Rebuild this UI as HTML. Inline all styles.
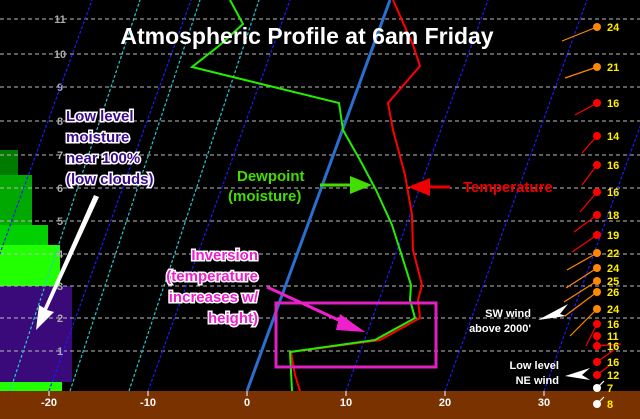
<!DOCTYPE html>
<html><head><meta charset="utf-8"><style>
html,body{margin:0;padding:0;background:#000;}
svg{display:block;font-family:"Liberation Sans","DejaVu Sans",sans-serif;font-weight:bold;}
</style></head><body>
<svg width="640" height="419" viewBox="0 0 640 419" xmlns="http://www.w3.org/2000/svg">
<rect width="640" height="419" fill="#000"/>
<rect x="0" y="150" width="18" height="25" fill="#007a00"/>
<rect x="0" y="175" width="32" height="50" fill="#00a800"/>
<rect x="0" y="225" width="48" height="22" fill="#00d000"/>
<rect x="0" y="245" width="60" height="41" fill="#22ff00"/>
<rect x="0" y="286" width="72" height="96" fill="#3a0a7a"/>
<rect x="0" y="382" width="62" height="9" fill="#22ff00"/>
<g stroke="#bbb" stroke-width="1" stroke-dasharray="4,3">
<line x1="0" y1="19" x2="640" y2="19"/><line x1="0" y1="54" x2="640" y2="54"/>
<line x1="0" y1="87" x2="640" y2="87"/><line x1="0" y1="121" x2="640" y2="121"/>
<line x1="0" y1="155" x2="640" y2="155"/><line x1="0" y1="188" x2="640" y2="188"/>
<line x1="0" y1="221" x2="640" y2="221"/><line x1="0" y1="254" x2="640" y2="254"/>
<line x1="0" y1="286" x2="640" y2="286"/><line x1="0" y1="318" x2="640" y2="318"/>
<line x1="0" y1="351" x2="640" y2="351"/>
</g>
<g fill="#aaa" font-size="11" text-anchor="middle">
<text x="60" y="23">11</text><text x="60" y="58">10</text><text x="60" y="91">9</text>
<text x="60" y="125">8</text><text x="60" y="159">7</text><text x="60" y="192">6</text>
<text x="60" y="225">5</text><text x="60" y="258">4</text><text x="60" y="290">3</text>
<text x="60" y="322">2</text><text x="60" y="355">1</text>
</g>
<g stroke="#1a1aff" stroke-width="1.2" stroke-dasharray="3,2" fill="none">
<line x1="49" y1="391" x2="191" y2="0"/><line x1="148" y1="391" x2="290" y2="0"/>
<line x1="346" y1="391" x2="488" y2="0"/><line x1="445" y1="391" x2="587" y2="0"/>
<line x1="544" y1="391" x2="686" y2="0"/><line x1="-50" y1="391" x2="92" y2="0"/>
<line x1="643" y1="391" x2="785" y2="0"/>
</g>
<g stroke="#22cccc" stroke-width="1.2" stroke-dasharray="3,2" fill="none">
<line x1="70" y1="391" x2="200" y2="0"/><line x1="129" y1="391" x2="259" y2="0"/>
<line x1="10" y1="391" x2="140" y2="0"/>
</g>
<line x1="247" y1="391" x2="390" y2="0" stroke="#2a6fcf" stroke-width="3"/>
<polyline fill="none" stroke="#ff0000" stroke-width="2" points="300,391 295,375 291,352 380,340 420,318 418,300 422,285 413,250 412,215 405,175 393,130 388,103 420,66 413,45 393,0"/>
<polyline fill="none" stroke="#22ee00" stroke-width="2" points="292,391 290,352 375,340 415,318 410,300 411,285 400,250 392,225 376,190 360,160 343,130 339,103 192,67 220,45 243,24 230,0"/>
<rect x="0" y="391" width="640" height="28" fill="#7a3300"/>
<g stroke="#fff" stroke-width="1"><line x1="49" y1="391" x2="49" y2="396"/><line x1="148" y1="391" x2="148" y2="396"/><line x1="247" y1="391" x2="247" y2="396"/><line x1="346" y1="391" x2="346" y2="396"/><line x1="445" y1="391" x2="445" y2="396"/><line x1="544" y1="391" x2="544" y2="396"/></g>
<g fill="#fff" font-size="11" text-anchor="middle">
<text x="49" y="406">-20</text><text x="148" y="406">-10</text><text x="247" y="406">0</text>
<text x="346" y="406">10</text><text x="445" y="406">20</text><text x="544" y="406">30</text>
</g>
<rect x="276" y="303" width="160" height="64" fill="none" stroke="#e020c0" stroke-width="3"/>
<g stroke-width="1.2">
<line x1="597" y1="27" x2="562" y2="41" stroke="#ff8800"/><circle cx="597" cy="27" r="4" fill="#ff8800"/>
<line x1="597" y1="67" x2="565" y2="78" stroke="#ff8800"/><circle cx="597" cy="67" r="4" fill="#ff8800"/>
<line x1="597" y1="103" x2="575" y2="115" stroke="#ff0000"/><circle cx="597" cy="103" r="4" fill="#ff0000"/>
<line x1="597" y1="136" x2="582" y2="153" stroke="#ff0000"/><circle cx="597" cy="136" r="4" fill="#ff0000"/>
<line x1="597" y1="165" x2="582" y2="185" stroke="#ff0000"/><circle cx="597" cy="165" r="4" fill="#ff0000"/>
<line x1="597" y1="192" x2="580" y2="212" stroke="#ff0000"/><circle cx="597" cy="192" r="4" fill="#ff0000"/>
<line x1="597" y1="215" x2="574" y2="232" stroke="#ff0000"/><circle cx="597" cy="215" r="4" fill="#ff0000"/>
<line x1="597" y1="235" x2="572" y2="252" stroke="#ff0000"/><circle cx="597" cy="235" r="4" fill="#ff0000"/>
<line x1="597" y1="253" x2="567" y2="270" stroke="#ff8800"/><circle cx="597" cy="253" r="4" fill="#ff8800"/>
<line x1="597" y1="268" x2="566" y2="288" stroke="#ff8800"/><circle cx="597" cy="268" r="4" fill="#ff8800"/>
<line x1="597" y1="281" x2="564" y2="302" stroke="#ff8800"/><circle cx="597" cy="281" r="4" fill="#ff8800"/>
<line x1="597" y1="292" x2="565" y2="316" stroke="#ff8800"/><circle cx="597" cy="292" r="4" fill="#ff8800"/>
<line x1="597" y1="309" x2="570" y2="336" stroke="#ff8800"/><circle cx="597" cy="309" r="4" fill="#ff8800"/>
<line x1="597" y1="324" x2="586" y2="346" stroke="#ff0000"/><circle cx="597" cy="324" r="4" fill="#ff0000"/>
<line x1="597" y1="336" x2="597" y2="347" stroke="#ff0000"/><circle cx="597" cy="336" r="4" fill="#ff0000"/>
<line x1="597" y1="346" x2="621" y2="344" stroke="#ff0000"/><circle cx="597" cy="346" r="4" fill="#ff0000"/>
<line x1="597" y1="362" x2="614" y2="350" stroke="#ff0000"/><circle cx="597" cy="362" r="4" fill="#ff0000"/>
<line x1="597" y1="375" x2="610" y2="365" stroke="#ff0000"/><circle cx="597" cy="375" r="4" fill="#ff0000"/>
<line x1="597" y1="388" x2="604" y2="381" stroke="#fff"/><circle cx="597" cy="388" r="4" fill="#fff"/>
<line x1="597" y1="404" x2="604" y2="397" stroke="#fff"/><circle cx="597" cy="404" r="4" fill="#fff"/>
</g>
<g fill="#ffee00" font-size="11">
<text x="607" y="31">24</text><text x="607" y="71">21</text><text x="607" y="107">16</text>
<text x="607" y="140">14</text><text x="607" y="169">16</text><text x="607" y="196">16</text>
<text x="607" y="219">18</text><text x="607" y="239">19</text><text x="607" y="257">22</text>
<text x="607" y="272">24</text><text x="607" y="285">25</text><text x="607" y="296">26</text>
<text x="607" y="313">24</text><text x="607" y="328">16</text><text x="607" y="340">11</text>
<text x="607" y="350">16</text><text x="607" y="366">16</text><text x="607" y="379">12</text>
<text x="607" y="392">7</text><text x="607" y="408">8</text>
</g>
<text x="307" y="44" font-size="23" fill="#fff" text-anchor="middle">Atmospheric Profile at 6am Friday</text>
<g font-size="15" fill="#3a0a8a" stroke="#fff" stroke-width="3" paint-order="stroke">
<text x="66" y="121">Low level</text><text x="66" y="142">moisture</text>
<text x="66" y="163">near 100%</text><text x="66" y="184">(low clouds)</text>
</g>
<polygon points="94,195 99,197 47,310 54,312 36,330 39,305 44,308" fill="#fff"/>
<g font-size="15" fill="#44dd00"><text x="237" y="181">Dewpoint</text><text x="228" y="201">(moisture)</text></g>
<line x1="320" y1="185" x2="355" y2="185" stroke="#44dd00" stroke-width="3"/>
<polygon points="350,176 372,185 350,194" fill="#44dd00"/>
<text x="463" y="192" font-size="15" fill="#ee0000">Temperature</text>
<line x1="450" y1="187" x2="425" y2="187" stroke="#ee0000" stroke-width="3"/>
<polygon points="430,178 408,187 430,196" fill="#ee0000"/>
<g font-size="15" fill="#ee20cc" stroke="#fff" stroke-width="3" paint-order="stroke" text-anchor="end">
<text x="258" y="260">Inversion</text><text x="258" y="281">(temperature</text>
<text x="258" y="302">increases w/</text><text x="258" y="323">height)</text>
</g>
<line x1="267" y1="287" x2="345" y2="323" stroke="#ee20cc" stroke-width="3"/>
<polygon points="340,314 365,332 336,330" fill="#ee20cc"/>
<g font-size="11" fill="#fff" text-anchor="end">
<text x="531" y="317">SW wind</text><text x="531" y="332">above 2000'</text>
<text x="559" y="369">Low level</text><text x="559" y="384">NE wind</text>
</g>
<polygon points="538,320 568,304 560,314 566,316" fill="#fff"/>
<polygon points="565,376 590,368 582,375 590,380" fill="#fff"/>
</svg>
</body></html>
